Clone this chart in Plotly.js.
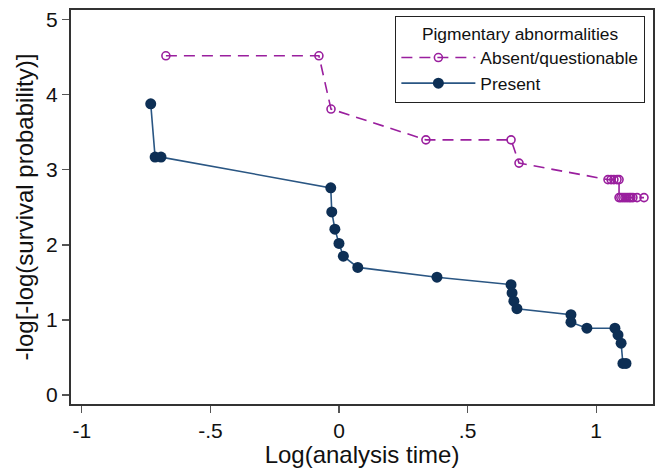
<!DOCTYPE html>
<html>
<head>
<meta charset="utf-8">
<script src="https://cdn.plot.ly/plotly-3.0.1.min.js"></script>
<style>html,body{margin:0;padding:0;background:#fff;}#chart{width:655px;height:468px;}</style>
</head>
<body>
<div id="chart"></div>
<script>
// Absent/questionable pigmentary abnormalities
const absentX = [-0.673, -0.078, -0.031, 0.338, 0.669, 0.700, 1.046, 1.058, 1.069, 1.081, 1.089,
                 1.089, 1.096, 1.104, 1.112, 1.120, 1.128, 1.135, 1.143, 1.159, 1.186];
const absentY = [4.52, 4.52, 3.81, 3.40, 3.40, 3.09, 2.87, 2.87, 2.87, 2.87, 2.87,
                 2.63, 2.63, 2.63, 2.63, 2.63, 2.63, 2.63, 2.63, 2.63, 2.63];
// Present
const presentX = [-0.732, -0.715, -0.692, -0.032, -0.028, -0.016, 0.000, 0.017, 0.073, 0.381,
                  0.669, 0.673, 0.680, 0.692, 0.902, 0.902, 0.964, 1.073, 1.085, 1.097, 1.104, 1.116];
const presentY = [3.88, 3.17, 3.17, 2.76, 2.44, 2.21, 2.02, 1.85, 1.70, 1.57,
                  1.47, 1.36, 1.25, 1.15, 1.07, 0.97, 0.89, 0.89, 0.80, 0.69, 0.42, 0.42];
const xTickVals = [-1, -0.5, 0, 0.5, 1];
const xTickText = ['-1', '-.5', '0', '.5', '1'];
const yTickVals = [0, 1, 2, 3, 4, 5];

const purple = '#9a1f9e';
const navy = '#0d2f55';

const traces = [
  {x: absentX, y: absentY, type: 'scatter', mode: 'lines+markers', name: 'Absent/questionable',
   line: {color: purple, width: 1.6, dash: '11px,7px'},
   marker: {symbol: 'circle-open', size: 8, color: purple, line: {width: 1.6, color: purple}}},
  {x: presentX, y: presentY, type: 'scatter', mode: 'lines+markers', name: 'Present',
   line: {color: '#2a5683', width: 1.6},
   marker: {symbol: 'circle', size: 11, color: navy}}
];

const layout = {
  width: 655, height: 468,
  margin: {l: 71, r: 2, t: 10, b: 64},
  paper_bgcolor: '#fff', plot_bgcolor: '#fff',
  font: {family: '"Liberation Sans", Arial, sans-serif', color: '#111'},
  showlegend: true,
  legend: {
    x: 0.557, y: 0.985, xanchor: 'left', yanchor: 'top',
    bordercolor: '#222', borderwidth: 1.2, bgcolor: '#fff',
    font: {size: 17.4, color: '#111'},
    title: {text: 'Pigmentary abnormalities', side: 'top center', font: {size: 17.4, color: '#111'}},
    itemwidth: 74, tracegroupgap: 0
  },
  xaxis: {
    range: [-1.042, 1.221], tickvals: xTickVals, ticktext: xTickText,
    ticks: 'outside', ticklen: 7, tickwidth: 1.2, tickcolor: '#555',
    showline: true, linecolor: '#333', linewidth: 2, mirror: true,
    showgrid: false, zeroline: false,
    tickfont: {size: 21, color: '#111'},
    title: {text: 'Log(analysis time)', font: {size: 24, color: '#111'}, standoff: 0}
  },
  yaxis: {
    range: [-0.12, 5.13], tickvals: yTickVals,
    ticks: 'outside', ticklen: 7, tickwidth: 1.2, tickcolor: '#555',
    showline: true, linecolor: '#333', linewidth: 2, mirror: true,
    showgrid: false, zeroline: false,
    tickfont: {size: 21, color: '#111'},
    title: {text: '-log[-log(survival probability)]', font: {size: 24, color: '#111'}, standoff: 6}
  }
};

Plotly.newPlot('chart', traces, layout, {displayModeBar: false, staticPlot: true});
</script>
</body>
</html>
